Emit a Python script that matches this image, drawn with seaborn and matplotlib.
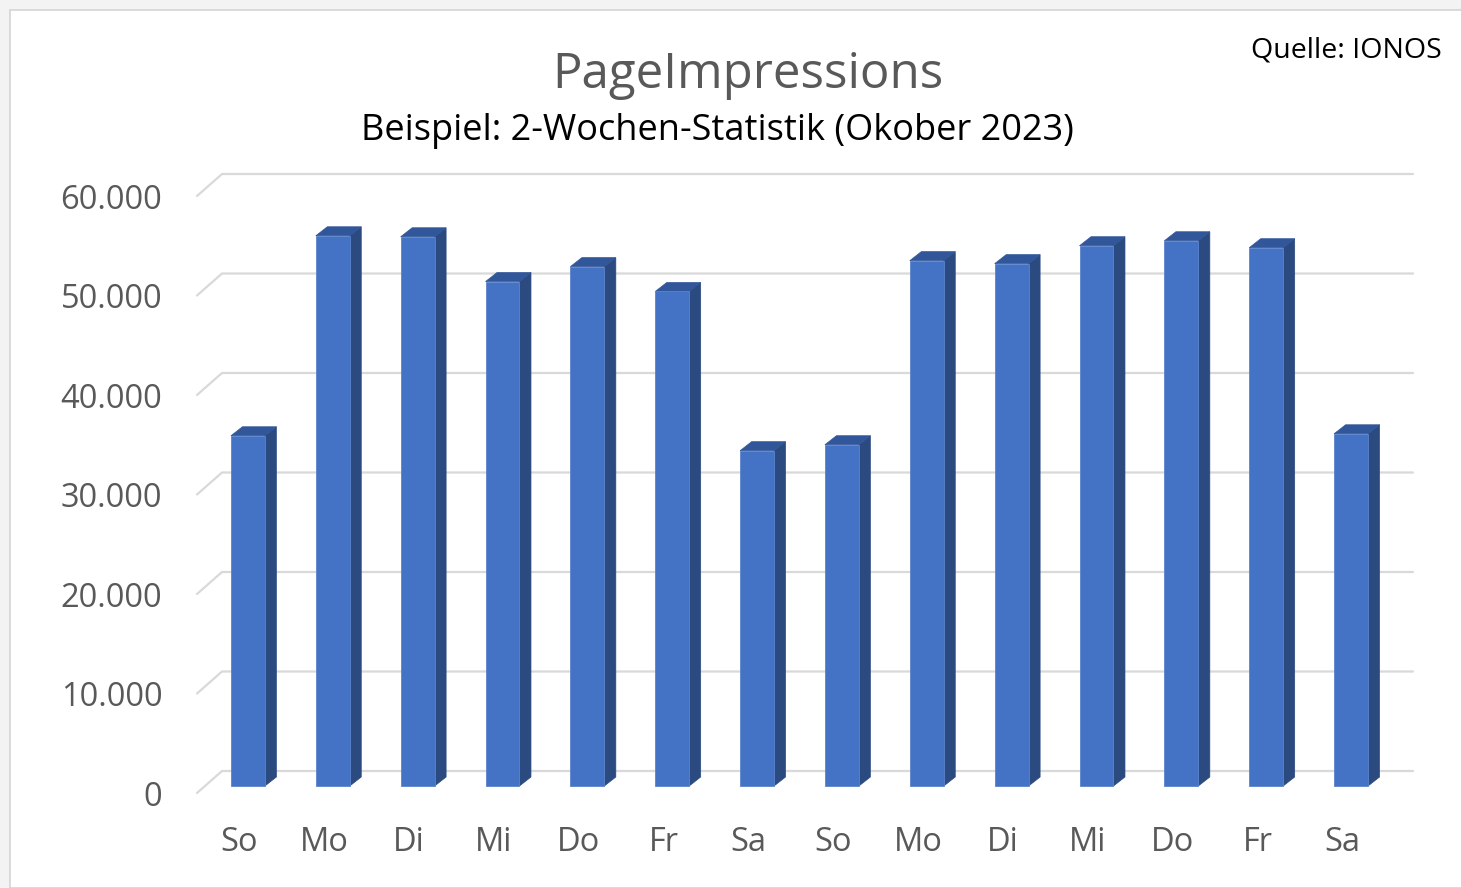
import pandas as pd
import matplotlib
matplotlib.use("Agg")
import matplotlib.pyplot as plt
from matplotlib.patches import Polygon, Rectangle
from matplotlib.lines import Line2D
from matplotlib.transforms import ScaledTranslation, IdentityTransform
import seaborn as sns

sns.set_style("white")
plt.rcParams["font.family"] = ["Open Sans", "DejaVu Sans"]

# --- data ---
tage = ["So", "Mo", "Di", "Mi", "Do", "Fr", "Sa",
        "So", "Mo", "Di", "Mi", "Do", "Fr", "Sa"]
impressions = [35200, 55300, 55200, 50700, 52200, 49700, 33700,
               34300, 52800, 52500, 54300, 54800, 54100, 35400]
y_ticks = [0, 10000, 20000, 30000, 40000, 50000, 60000]
y_labels = ["0", "10.000", "20.000", "30.000", "40.000", "50.000", "60.000"]

df = pd.DataFrame({"idx": range(len(tage)), "tag": tage, "wert": impressions})

W, H, DPI = 1461, 888, 100
fig = plt.figure(figsize=(W / DPI, H / DPI), dpi=DPI, facecolor="#F3F3F3")
fig.add_artist(Rectangle((10 / W, 0), 1, 1 - 10 / H, transform=fig.transFigure,
                         facecolor="white", edgecolor="#D4D4D4", lw=1.2, zorder=-10))

ax = fig.add_axes([197 / W, 95 / H, 1188 / W, 597 / H])
ax.patch.set_alpha(0)

FRONT = "#4472C4"
SIDE = "#2B4A80"
TOP = "#31569A"
GRID = "#D9D9D9"

sns.barplot(data=df, x="idx", y="wert", width=0.4, color=FRONT, saturation=1,
            ax=ax, zorder=3)
ax.set_xlim(-0.5, len(tage) - 0.5)
ax.set_ylim(0, 60000)
sns.despine(ax=ax, left=True, bottom=True)

ax.set_xticks(range(len(tage)), labels=tage)
ax.set_yticks(y_ticks, labels=y_labels)
ax.tick_params(axis="both", length=0, labelsize=23.5, labelcolor="#595959")
ax.tick_params(axis="y", pad=25)
ax.tick_params(axis="x", pad=24)
ax.set_xlabel("")
ax.set_ylabel("")
ax.grid(False)

# 3D look: back wall offset and bar depth (in pixels)
wall_dx, wall_dy = 25, 22
bar_dx, bar_dy = 8.5, 7
depth_dx, depth_dy = 11.5, 9

# back wall gridlines + diagonal side edges
x0, x1 = ax.get_xlim()
for v in y_ticks:
    (fx0, fy), = ax.transData.transform([(x0, v)])
    (fx1, _), = ax.transData.transform([(x1, v)])
    ax.add_line(Line2D([fx0, fx0 + wall_dx, fx1 + wall_dx + 3],
                       [fy, fy + wall_dy, fy + wall_dy],
                       transform=IdentityTransform(), color=GRID, lw=1.6,
                       clip_on=False, zorder=1))

shift = ScaledTranslation(bar_dx / DPI, bar_dy / DPI, fig.dpi_scale_trans)
for p in ax.patches:
    xl, yb = p.get_x(), p.get_y()
    xr, yt = xl + p.get_width(), yb + p.get_height()
    (dxl, dyb), (dxr, dyt) = ax.transData.transform([(xl, yb), (xr, yt)])
    dxl += bar_dx; dxr += bar_dx; dyb += bar_dy; dyt += bar_dy
    side = [(dxr, dyb), (dxr, dyt), (dxr + depth_dx, dyt + depth_dy), (dxr + depth_dx, dyb + depth_dy)]
    top = [(dxl, dyt), (dxr, dyt), (dxr + depth_dx, dyt + depth_dy), (dxl + depth_dx, dyt + depth_dy)]
    ax.add_patch(Polygon(side, closed=True, transform=IdentityTransform(),
                         facecolor=SIDE, edgecolor=SIDE, lw=0.5, clip_on=False, zorder=2))
    ax.add_patch(Polygon(top, closed=True, transform=IdentityTransform(),
                         facecolor=TOP, edgecolor=TOP, lw=0.5, clip_on=False, zorder=2))
    p.set_transform(ax.transData + shift)
    p.set_clip_on(False)
    p.set_edgecolor("#5B83CC")
    p.set_linewidth(0.6)

fig.text(748 / W, 1 - 75 / H, "PageImpressions", ha="center", va="center",
         fontsize=35.5, color="#595959")
fig.text(717 / W, 1 - 131 / H, "Beispiel: 2-Wochen-Statistik (Okober 2023)",
         ha="center", va="center", fontsize=26, color="black")
fig.text(1442 / W, 1 - 50 / H, "Quelle: IONOS", ha="right", va="center",
         fontsize=20.5, color="black")

fig.savefig("out.png", dpi=DPI, facecolor=fig.get_facecolor())
